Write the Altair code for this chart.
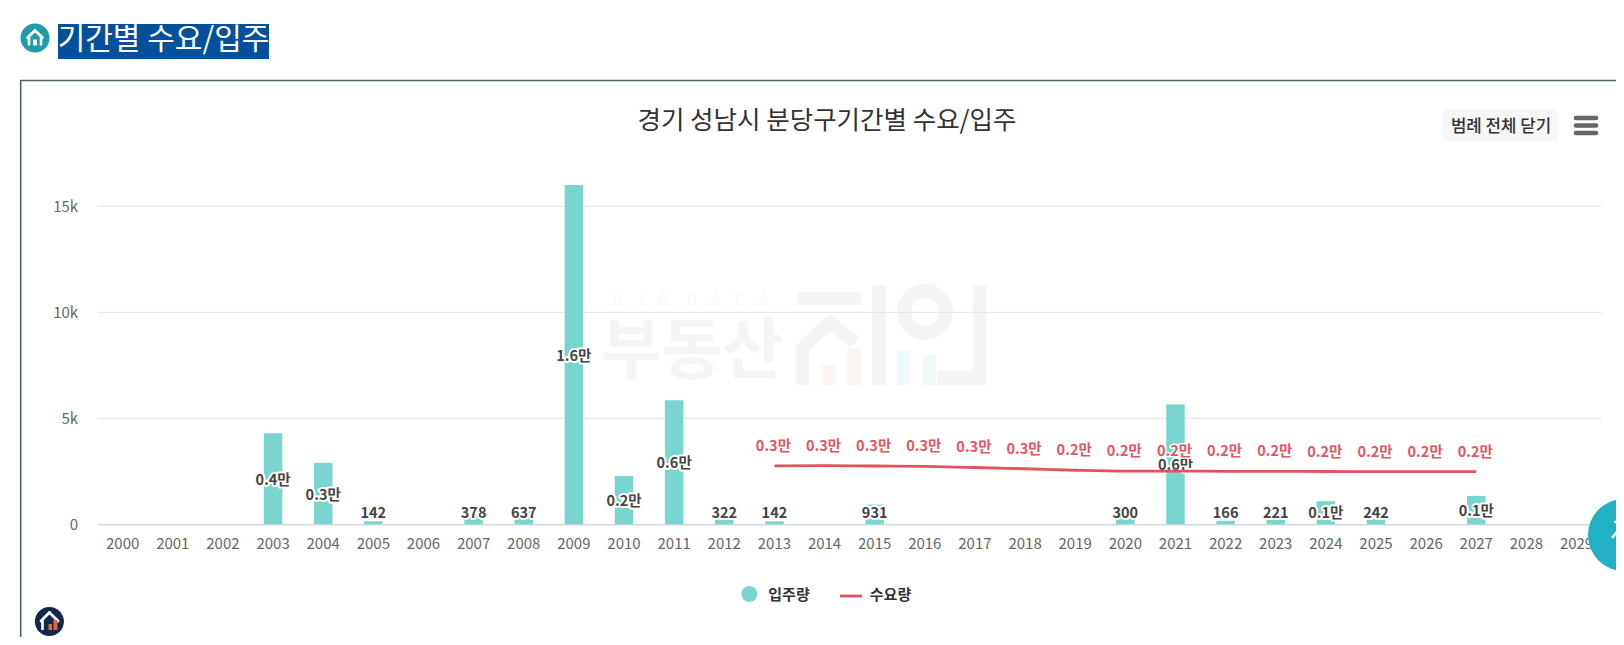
import altair as alt
import pandas as pd

FONT = "Noto Sans CJK KR"

# ---- data -----------------------------------------------------------------
years = [str(y) for y in range(2000, 2030)]
supply_years = ["2003", "2004", "2005", "2007", "2008", "2009", "2010", "2011", "2012", "2013",
                "2015", "2020", "2021", "2022", "2023", "2024", "2025", "2027"]
supply_values = [4300, 2900, 142, 378, 637, 16000, 2280, 5850, 322, 142,
                 931, 300, 5650, 166, 221, 1090, 242, 1340]
supply_labels = ["0.4만", "0.3만", "142", "378", "637", "1.6만", "0.2만", "0.6만", "322", "142",
                 "931", "300", "0.6만", "166", "221", "0.1만", "242", "0.1만"]
demand_years = [str(y) for y in range(2013, 2028)]
demand_values = [2760, 2770, 2750, 2730, 2680, 2620, 2550, 2510, 2510, 2500, 2495, 2490, 2485, 2480, 2480]
demand_labels = ["0.3만"] * 6 + ["0.2만"] * 9
y_ticks = [0, 5000, 10000, 15000]

heading = "기간별 수요/입주"
title = "경기 성남시 분당구기간별 수요/입주"
legend_button = "범례 전체 닫기"
legend_names = ["입주량", "수요량"]
wm_letters = ["B", "I", "G", "D", "A", "T", "A"]
wm_x = [618, 642, 663, 692, 715, 737, 763]

BAR = "#7bd5cf"
RED = "#e2535c"
TXT = "#666666"

# ---- page geometry helpers (page pixels -> plot pixels) --------------------
L, T = 97.6, 163.9
W, H = 1504, 360.4
PAGE_W, PAGE_H = 1608, 629
def px(x): return x - L
def py(y): return y - T

def seg(x1, y1, x2, y2, color, w, cap="butt"):
    return alt.Chart().mark_rule(color=color, strokeWidth=w, strokeCap=cap).encode(
        x=alt.value(px(x1)), x2=alt.value(px(x2)), y=alt.value(py(y1)), y2=alt.value(py(y2)))

def disc(x, y, r, color):
    return alt.Chart().mark_circle(color=color, opacity=1, size=(2 * r) ** 2).encode(
        x=alt.value(px(x)), y=alt.value(py(y)))

def ring(x, y, r, color, w):
    return alt.Chart().mark_point(color=color, opacity=1, filled=False, strokeWidth=w, size=(2 * r) ** 2).encode(
        x=alt.value(px(x)), y=alt.value(py(y)))

def txt(s, x, y, size, color="#333333", weight="normal", align="center"):
    return alt.Chart().mark_text(text=s, font=FONT, fontSize=size, color=color, fontWeight=weight,
                                 align=align, baseline="middle").encode(
        x=alt.value(px(x)), y=alt.value(py(y)))

def box(x1, y1, x2, y2, color, radius=0):
    return alt.Chart().mark_rect(color=color, cornerRadius=radius).encode(
        x=alt.value(px(x1)), x2=alt.value(px(x2)), y=alt.value(py(y1)), y2=alt.value(py(y2)))

# ---- watermark --------------------------------------------------------------
WM = "#f5f5f5"
watermark = [txt(c, x, 300, 15, "#f8f8f8") for c, x in zip(wm_letters, wm_x)] + [
    txt("부동산", 692, 353, 66, WM, "bold"),
    box(797, 292, 861, 305, WM),
    seg(803, 385, 803, 345, WM, 13),
    seg(798, 352, 830, 322, WM, 13),
    seg(826, 320, 855, 342, WM, 13),
    box(822, 365, 835, 385, "#fdf5f1"),
    box(847, 348, 861, 385, "#fdf5f1"),
    box(872, 285, 886, 385, WM),
    ring(925, 311.7, 21, WM, 14),
    box(897, 350, 910, 385, "#f0fafa"),
    box(923, 355, 936, 385, "#f0fafa"),
    box(973, 285, 986, 385, WM),
    box(937, 371, 986, 385, WM),
]

# ---- frame & header ---------------------------------------------------------
decor = [
    seg(20, 80.5, 1624, 80.5, "#4f6268", 1.6),
    seg(20.7, 80, 20.7, 645, "#4f6268", 1.6),
    disc(35, 38, 14.5, "#1f9baa"),
    seg(27.5, 37.5, 35, 30.5, "white", 2.8, "round"),
    seg(35, 30.5, 42.5, 37.5, "white", 2.8, "round"),
    seg(29, 37, 29, 45.5, "white", 2.6),
    seg(41, 37, 41, 45.5, "white", 2.6),
    box(33, 39.5, 37, 45.5, "white"),
    box(58, 24, 269, 59, "#04509c"),
    txt(heading, 163.5, 40.5, 30, "white"),
    txt(title, 827, 121, 25.5, "#333333", 400),
    box(1443, 109, 1558, 141, "#f7f7f8", 3),
    txt(legend_button, 1501, 127, 16.8, "#333333", 500),
    seg(1576, 118, 1596, 118, "#666666", 4.6, "round"),
    seg(1576, 125.5, 1596, 125.5, "#666666", 4.6, "round"),
    seg(1576, 133, 1596, 133, "#666666", 4.6, "round"),
]

# ---- chart marks ------------------------------------------------------------
y_scale = alt.Scale(domain=[0, 17000], nice=False)
y_axis = alt.Axis(title=None, values=y_ticks, grid=False, domain=False, ticks=False,
                  labelFont=FONT, labelFontSize=15, labelColor=TXT, labelPadding=20,
                  labelExpr="datum.value == 0 ? '0' : datum.value / 1000 + 'k'")
x_enc = alt.X("year:N", scale=alt.Scale(domain=years, paddingInner=0.63, paddingOuter=0.315),
              axis=alt.Axis(title=None, labelAngle=0, labelFont=FONT, labelFontSize=15, labelColor=TXT,
                            labelPadding=12, labelOverlap=False, ticks=False, grid=False,
                            domainColor="#d3d7e0", domainWidth=1.5))
y_enc = alt.Y("v:Q", scale=y_scale, axis=y_axis)

grid = alt.Chart(pd.DataFrame({"v": y_ticks[1:]})).mark_rule(color="#e6e8ea", strokeWidth=1.2).encode(y=y_enc)

supply = pd.DataFrame({"year": supply_years, "v": supply_values, "label": supply_labels})
demand = pd.DataFrame({"year": demand_years, "v": demand_values, "label": demand_labels})

bars = alt.Chart(supply).mark_bar(color=BAR, size=18.5).encode(x=x_enc, y=y_enc)

lab_y = alt.Y("ly:Q", scale=y_scale, axis=y_axis)
lab_base = alt.Chart(supply).transform_calculate(ly="max(datum.v / 2, 566)")
lab_halo = lab_base.mark_text(font=FONT, fontSize=14.5, fontWeight="bold", stroke="white", strokeWidth=4,
                              strokeJoin="round", dy=2, baseline="middle").encode(x=x_enc, y=lab_y, text="label:N")
lab_text = lab_base.mark_text(font=FONT, fontSize=14.5, fontWeight="bold", color="#444444",
                              dy=2, baseline="middle").encode(x=x_enc, y=lab_y, text="label:N")

line = alt.Chart(demand).mark_line(color=RED, strokeWidth=2.8, interpolate="monotone").encode(x=x_enc, y=y_enc)
red_halo = alt.Chart(demand).mark_text(font=FONT, fontSize=14.5, fontWeight="bold", stroke="white", strokeWidth=3,
                                       strokeJoin="round", dy=-19, dx=-1, baseline="middle").encode(
    x=x_enc, y=y_enc, text="label:N")
red_text = alt.Chart(demand).mark_text(font=FONT, fontSize=14.5, fontWeight="bold", color="#e4555f",
                                       dy=-19, dx=-1, baseline="middle").encode(
    x=x_enc, y=y_enc, text="label:N")

# ---- legend & floating buttons ---------------------------------------------
legend = [
    disc(749.3, 594, 8, BAR),
    txt(legend_names[0], 789, 595, 15, "#333333", "bold"),
    seg(840, 596, 862, 596, RED, 2.8),
    txt(legend_names[1], 890.5, 595, 15, "#333333", "bold"),
]
floats = [
    disc(1624, 535, 36, "#22b0c6"),
    seg(1614, 522, 1624, 522, "white", 2.5),
    seg(1612, 538, 1623, 524, "white", 2.5),
    seg(1623, 524, 1623, 551, "white", 2.5),
    disc(49.4, 621.5, 14.5, "#12294b"),
    seg(41, 621, 49.4, 612.5, "white", 2.8, "round"),
    seg(49.4, 612.5, 58, 621, "white", 2.8, "round"),
    seg(42.5, 620, 42.5, 630, "white", 2.6),
    box(48.5, 624, 52, 630, "#e8643c"),
    box(53.5, 620, 57.5, 630, "#e8643c"),
]

chart = alt.layer(
    *watermark, grid, *decor, bars, lab_halo, lab_text, line, red_halo, red_text, *legend, *floats
).resolve_scale(y="shared", x="shared").properties(
    width=W, height=H,
    padding={"left": L - 8, "top": T - 8, "right": PAGE_W - (L - 8) - W, "bottom": PAGE_H - (T - 8) - H},
    autosize=alt.AutoSizeParams(type="none"),
    background="white",
).configure_view(stroke=None)

chart.save("out.html", embed_options={"renderer": "svg", "actions": False})
